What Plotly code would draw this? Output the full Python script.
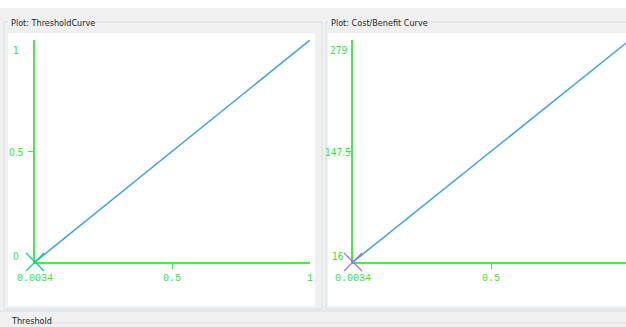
import plotly.graph_objects as go

W, H = 626, 327

# Threshold curve: false/true fraction vs threshold
thr_x = [0.0034, 1.0]
thr_y = [0.0, 1.0]

# Cost/benefit curve
cb_x = [0.0034, 1.0]
cb_y = [16.0, 279.0]

# Axis ticks and their labels
thr_xticks = [0.0034, 0.5, 1.0]
thr_xtext = ["0.0034", "0.5", "1"]
thr_yticks = [0.0, 0.5, 1.0]
thr_ytext = ["0", "0.5", "1"]

cb_xticks = [0.0034, 0.5, 1.0]
cb_xtext = ["0.0034", "0.5", "1"]
cb_yticks = [16.0, 147.5, 279.0]
cb_ytext = ["16", "147.5", "279"]

GREEN = "#44ee44"
TEXT_GREEN = "#33e633"
BLUE = "#3f9fe2"
ORANGE = "rgba(255,165,70,0.8)"
PANEL_GRAY = "#f0f0f0"
EDGE = "#d6dfe6"
NARROW = "Liberation Sans Narrow, DejaVu Sans Condensed, sans-serif"
MONO = "Liberation Mono, DejaVu Sans Mono, monospace"


def px(x):
    return x / W


def py(y):
    return 1 - y / H


fig = go.Figure()

# curves (clipped to plot area)
fig.add_trace(go.Scatter(x=thr_x, y=thr_y, mode="lines", line=dict(color=BLUE, width=1.5),
                         xaxis="x", yaxis="y", hoverinfo="skip"))
fig.add_trace(go.Scatter(x=cb_x, y=cb_y, mode="lines", line=dict(color=BLUE, width=1.5),
                         xaxis="x2", yaxis="y2", hoverinfo="skip"))
# point markers at the first curve point
fig.add_trace(go.Scatter(x=thr_x[:1], y=thr_y[:1], mode="markers", cliponaxis=False,
                         marker=dict(symbol="x-thin-open", size=18, line=dict(color=ORANGE, width=1.2)),
                         xaxis="x", yaxis="y", hoverinfo="skip"))
fig.add_trace(go.Scatter(x=cb_x[:1], y=cb_y[:1], mode="markers", cliponaxis=False,
                         marker=dict(symbol="x-thin-open", size=18, line=dict(color=BLUE, width=1.2)),
                         xaxis="x2", yaxis="y2", hoverinfo="skip"))

# plot geometry (pixels)
Y_TOP, Y_AX = 40, 262
L_X0, L_X1 = 35, 310
R_X0 = 353
r_scale = (491 - R_X0) / (0.5 - cb_x[0])
r_xmax = cb_x[0] + (W - R_X0) / r_scale

axis_common = dict(showgrid=False, zeroline=False, showline=True, linecolor=GREEN,
                   ticks="outside", ticklen=5, tickwidth=1, tickcolor=GREEN,
                   showticklabels=False, fixedrange=True, layer="below traces")

fig.update_layout(
    width=W, height=H,
    margin=dict(l=0, r=0, t=0, b=0),
    paper_bgcolor=PANEL_GRAY,
    plot_bgcolor="rgba(0,0,0,0)",
    showlegend=False,
    xaxis=dict(domain=[px(L_X0), px(L_X1)], range=[thr_x[0], 1.0], anchor="y",
               tickvals=thr_xticks[1:-1], linewidth=2, **axis_common),
    yaxis=dict(domain=[py(Y_AX), py(Y_TOP)], range=[0, 1], anchor="x",
               tickvals=thr_yticks[1:-1], linewidth=1.5, **axis_common),
    xaxis2=dict(domain=[px(R_X0), 1.0], range=[cb_x[0], r_xmax], anchor="y2",
                tickvals=cb_xticks[1:-1], linewidth=2, **axis_common),
    yaxis2=dict(domain=[py(Y_AX), py(Y_TOP)], range=[cb_y[0], cb_y[1]], anchor="x2",
                tickvals=cb_yticks[1:-1], linewidth=1.5, **axis_common),
)

shapes = []


def rect(x0, y0, x1, y1, fill=None, line=None):
    shapes.append(dict(type="rect", xref="paper", yref="paper", layer="below",
                       x0=px(x0), x1=px(x1), y0=py(y1), y1=py(y0),
                       fillcolor=fill or "rgba(0,0,0,0)",
                       line=dict(width=1 if line else 0, color=line or "rgba(0,0,0,0)")))


def hline(x0, x1, y, color=EDGE):
    shapes.append(dict(type="line", xref="paper", yref="paper", layer="below",
                       x0=px(x0), x1=px(x1), y0=py(y), y1=py(y), line=dict(width=1, color=color)))


# window chrome
rect(0, 0, W, 8, fill="white")
rect(4, 22, 322, 309, line=EDGE)
rect(326, 22, W + 4, 309, line=EDGE)
rect(8, 33, 315, 306, fill="white")
rect(328, 33, W, 306, fill="white")
hline(0, W, 311)
hline(44, W, 323)
# mask title gaps in panel borders
rect(8, 16, 78, 28, fill=PANEL_GRAY)
rect(328, 16, 420, 28, fill=PANEL_GRAY)

fig.update_layout(shapes=shapes)

ann = []


def title(x, y, text):
    ann.append(dict(xref="paper", yref="paper", x=px(x), y=py(y), text=text, showarrow=False,
                    xanchor="left", yanchor="middle", font=dict(family=NARROW, size=9, color="#1e1e1e")))


title(9, 23, "Plot: ThresholdCurve")
title(329, 23, "Plot: Cost/Benefit Curve")
title(9, 321, "Threshold")


def xlabels(ticks, texts, xref, xmax):
    for v, t in zip(ticks, texts):
        if v <= xmax:
            ann.append(dict(xref=xref, yref="paper", x=v, y=py(278), text=t, showarrow=False,
                            xanchor="center", yanchor="middle",
                            font=dict(family=MONO, size=10, color=TEXT_GREEN)))


def ylabels(ticks, texts, yref, xcenter):
    n = len(ticks)
    for i, (v, t) in enumerate(zip(ticks, texts)):
        shift = 6 if i == 0 else (-11 if i == n - 1 else -1)
        ann.append(dict(xref="paper", yref=yref, x=px(xcenter), y=v, yshift=shift, text=t,
                        showarrow=False, xanchor="center", yanchor="middle",
                        font=dict(family=NARROW, size=10, color=TEXT_GREEN)))


xlabels(thr_xticks, thr_xtext, "x", 1.0)
xlabels(cb_xticks, cb_xtext, "x2", r_xmax)
ylabels(thr_yticks, thr_ytext, "y", 16)
ylabels(cb_yticks, cb_ytext, "y2", 338)

fig.update_layout(annotations=ann)

fig.write_html("out.html", config={"displayModeBar": False})
